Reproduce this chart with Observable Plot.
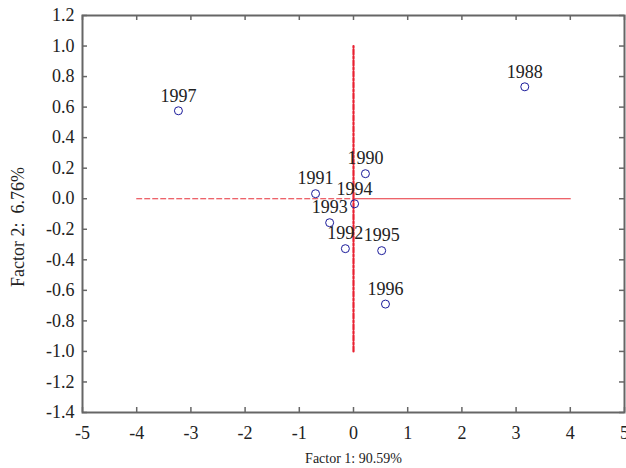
<!DOCTYPE html>
<html>
<head>
<meta charset="utf-8">
<script src="https://cdn.jsdelivr.net/npm/d3@7"></script>
<script src="https://cdn.jsdelivr.net/npm/@observablehq/plot@0.6"></script>
<style>
  html, body { margin: 0; padding: 0; background: #fff; }
  svg { display: block; }
  svg, svg text { font-family: "Liberation Serif", "Times New Roman", serif !important; }
</style>
</head>
<body>
<div id="chart"></div>
<script>
const years = ["1988", "1990", "1991", "1992", "1993", "1994", "1995", "1996", "1997"];
const factor1 = [3.16, 0.22, -0.70, -0.15, -0.44, 0.02, 0.52, 0.59, -3.23];
const factor2 = [0.733, 0.164, 0.033, -0.327, -0.157, -0.033, -0.34, -0.69, 0.576];
const xTicks = [-5, -4, -3, -2, -1, 0, 1, 2, 3, 4, 5];
const yTicks = [-1.4, -1.2, -1.0, -0.8, -0.6, -0.4, -0.2, 0.0, 0.2, 0.4, 0.6, 0.8, 1.0, 1.2];
const hLeft = [[-4, 0], [0, 0]];
const hRight = [[0, 0], [4, 0]];
const vLine = [[0, -1], [0, 1]];

const points = years.map((y, i) => ({year: y, x: factor1[i], y: factor2[i]}));

const W = 626, H = 468;
const mL = 82, mR = 2, mT = 15, mB = 56;
const pw = W - mL - mR, ph = H - mT - mB;
const red = "#e8303a";
const axisCol = "#666";
const font = "'Liberation Serif', 'Times New Roman', serif";

const chart = Plot.plot({
  width: W,
  height: H,
  marginLeft: mL,
  marginRight: mR,
  marginTop: mT,
  marginBottom: mB,
  style: {fontFamily: font, background: "#fff", overflow: "visible"},
  x: {domain: [-5, 5]},
  y: {domain: [-1.4, 1.2]},
  marks: [
    Plot.line(hLeft, {x: d => d[0], y: d => d[1], stroke: red, strokeWidth: 1.2, strokeDasharray: "5,3"}),
    Plot.line(hRight, {x: d => d[0], y: d => d[1], stroke: red, strokeWidth: 1.2}),
    Plot.line(vLine, {x: d => d[0], y: d => d[1], stroke: "#e82030", strokeWidth: 2.2, strokeDasharray: "5,2,2,2"}),
    // inward ticks
    Plot.tickX(xTicks, {x: d => d, insetTop: ph - 5, stroke: axisCol, strokeWidth: 1.5}),
    Plot.tickX(xTicks, {x: d => d, insetBottom: ph - 5, stroke: axisCol, strokeWidth: 1.5}),
    Plot.tickY(yTicks, {y: d => d, insetRight: pw - 5, stroke: axisCol, strokeWidth: 1.5}),
    Plot.tickY(yTicks, {y: d => d, insetLeft: pw - 5, stroke: axisCol, strokeWidth: 1.5}),
    Plot.frame({stroke: axisCol, strokeWidth: 2}),
    Plot.axisX({ticks: xTicks, tickSize: 0, tickPadding: 14, tickFormat: d => String(d), fontSize: 18, fill: "#222", label: null}),
    Plot.axisY({ticks: yTicks, tickSize: 0, tickPadding: 8, tickFormat: d => d.toFixed(1), fontSize: 18, fill: "#222", label: null}),
    Plot.dot(points, {x: "x", y: "y", r: 4, stroke: "#1a1a9a", strokeWidth: 1, fill: "none"}),
    Plot.text(points, {x: "x", y: "y", text: "year", dy: -15, fontSize: 18, fill: "#222"}),
    Plot.text(["Factor 1: 90.59%"], {frameAnchor: "bottom", dy: 50, text: d => d, fontSize: 14, fill: "#222"}),
    Plot.text(["Factor 2:  6.76%"], {frameAnchor: "left", textAnchor: "middle", dx: -64, dy: 13, rotate: -90, text: d => d, fontSize: 18, fill: "#222"})
  ]
});
document.getElementById("chart").appendChild(chart);
</script>
</body>
</html>
